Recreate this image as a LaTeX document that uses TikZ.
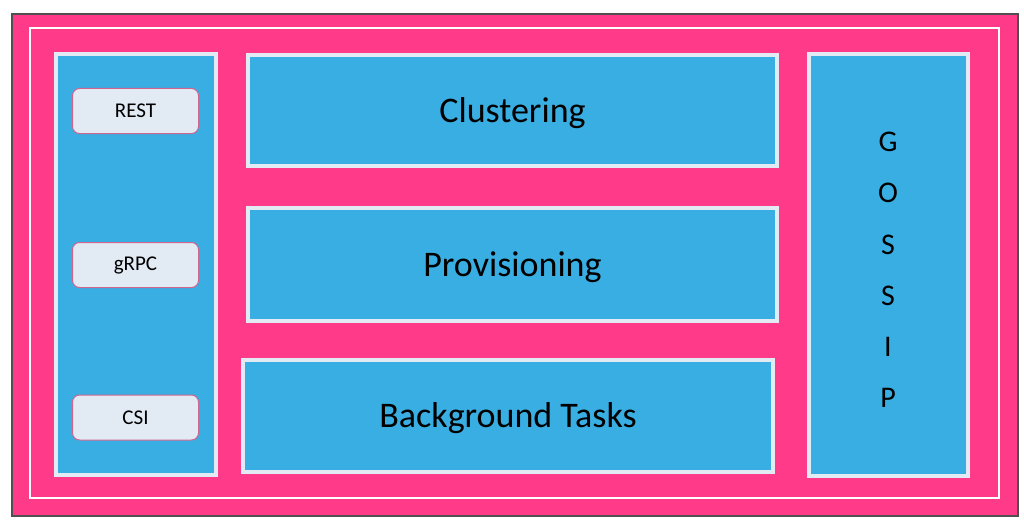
\documentclass[tikz,border=0pt]{standalone}
\usepackage{fontspec}
\setmainfont{Carlito}
\usetikzlibrary{positioning}
\definecolor{framepink}{RGB}{255,58,136}
\definecolor{layerblue}{RGB}{56,174,226}
\definecolor{paleedge}{RGB}{226,234,244}
\definecolor{apiedge}{RGB}{208,102,143}
\definecolor{framegray}{RGB}{80,80,80}

\tikzset{
    layer/.style={draw=paleedge, line width=4pt, fill=layerblue, inner sep=0pt},
    apibox/.style={draw=apiedge, line width=1pt, fill=paleedge, rounded corners=7pt,
        minimum width=126pt, minimum height=45pt, inner sep=0pt,
        font=\fontsize{21}{24}\selectfont},
    bigtext/.style={font=\fontsize{36}{40}\selectfont, text height=23pt, text depth=0pt}
}

\begin{document}
\begin{tikzpicture}[x=1pt,y=-1pt]
    \useasboundingbox (0,0) rectangle (1024,524);

    % Outer frame
    \node[draw=framegray, line width=1.5pt, fill=framepink, inner sep=0pt,
        minimum width=1006pt, minimum height=502pt] (frame) at (515,265) {};
    \node[draw=white, line width=1.2pt, inner sep=0pt,
        minimum width=969pt, minimum height=470pt] (inner) at (514.5,263) {};

    % API column
    \node[layer, minimum width=160pt, minimum height=421pt] (api) at (136,264.5) {};
    \foreach \name/\y in {REST/111,gRPC/265,CSI/417.5} {
        \node[apibox] (\name) at (135.5,\y) {\name};
    }

    % Core layers
    \node[layer, bigtext, minimum width=529pt, minimum height=111pt] (clustering) at (512.5,110.5) {Clustering};
    \node[layer, bigtext, minimum width=529pt, minimum height=113pt] (provisioning) at (512.5,264.5) {Provisioning};
    \node[layer, bigtext, minimum width=530pt, minimum height=112pt] (background) at (508,416) {Background Tasks};

    % Gossip column
    \node[layer, minimum width=159pt, minimum height=422pt] (gossip) at (888.5,265) {};
    \node[align=center, inner sep=0pt, font=\fontsize{30}{51.3}\selectfont] (gossiptext) at (888,270)
        {G\\O\\S\\S\\I\\P};
\end{tikzpicture}
\end{document}
